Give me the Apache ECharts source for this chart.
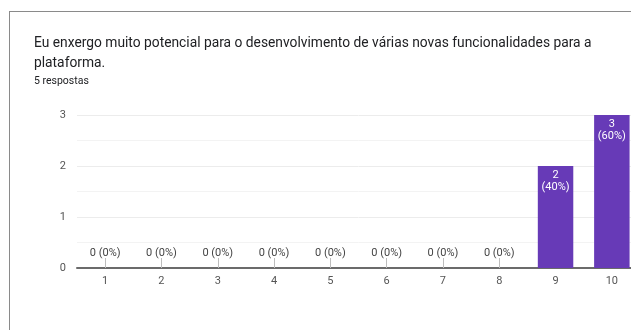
<!DOCTYPE html>
<html>
<head>
<meta charset="utf-8">
<script src="https://cdn.jsdelivr.net/npm/echarts@6/dist/echarts.min.js"></script>
<style>
  html, body { margin: 0; padding: 0; overflow: hidden; background: #fff; }
  #chart { width: 640px; height: 330px; }
  #card { position: absolute; left: 9px; top: 11px; width: 700px; height: 400px;
          border-left: 1px solid #8a8a8a; border-top: 1px solid #8a8a8a; pointer-events: none; }
</style>
</head>
<body>
<div id="chart"></div>
<div id="card"></div>
<script>
// Question text and response count
const questionText = 'Eu enxergo muito potencial para o desenvolvimento de várias novas funcionalidades para a plataforma.';
const responsesText = '5 respostas';

// Rating scale categories and answer counts
const categories = ['1', '2', '3', '4', '5', '6', '7', '8', '9', '10'];
const counts = [0, 0, 0, 0, 0, 0, 0, 0, 2, 3];

const total = counts.reduce((a, b) => a + b, 0);
const pct = v => Math.round(v / total * 100) + '%';

const chart = echarts.init(document.getElementById('chart'), null, { renderer: 'canvas' });

chart.setOption({
  animation: false,
  textStyle: { fontFamily: 'Roboto, Arial, sans-serif' },
  title: [
    {
      text: questionText,
      left: 34, top: 34, padding: 0,
      textStyle: { fontSize: 13.8, fontWeight: 'normal', color: '#202124', width: 580, overflow: 'break', lineHeight: 20 }
    },
    {
      text: responsesText,
      left: 34, top: 76, padding: 0,
      textStyle: { fontSize: 10.5, fontWeight: 'normal', color: '#202124' }
    }
  ],
  grid: { left: 77, right: 0, top: 115, bottom: 62 },
  xAxis: {
    type: 'category',
    data: categories,
    axisLine: { lineStyle: { color: '#6b6b6b', width: 2 } },
    axisTick: { show: true, inside: true, alignWithLabel: true, length: 10, lineStyle: { color: '#bdbdbd', width: 1 } },
    axisLabel: { color: '#555', fontSize: 11, margin: 8 }
  },
  yAxis: {
    type: 'value',
    min: 0, max: 3, interval: 1,
    axisLine: { show: false },
    axisTick: { show: false },
    axisLabel: { color: '#555', fontSize: 11, margin: 11 },
    splitLine: { lineStyle: { color: '#ececec' } },
    minorTick: { show: false, splitNumber: 2 },
    minorSplitLine: { show: true, lineStyle: { color: '#f3f3f3' } }
  },
  series: [{
    type: 'bar',
    data: counts.map(v => ({
      value: v,
      label: v === 0
        ? { show: true, position: 'top', distance: 9, color: '#444', fontSize: 11,
            formatter: () => v + ' (' + pct(v) + ')' }
        : { show: true, position: 'insideTop', distance: 3, color: '#fff', fontSize: 11, lineHeight: 12,
            formatter: () => v + '\n(' + pct(v) + ')' }
    })),
    barWidth: '63%',
    itemStyle: { color: '#673ab7' }
  }]
});
</script>
</body>
</html>
